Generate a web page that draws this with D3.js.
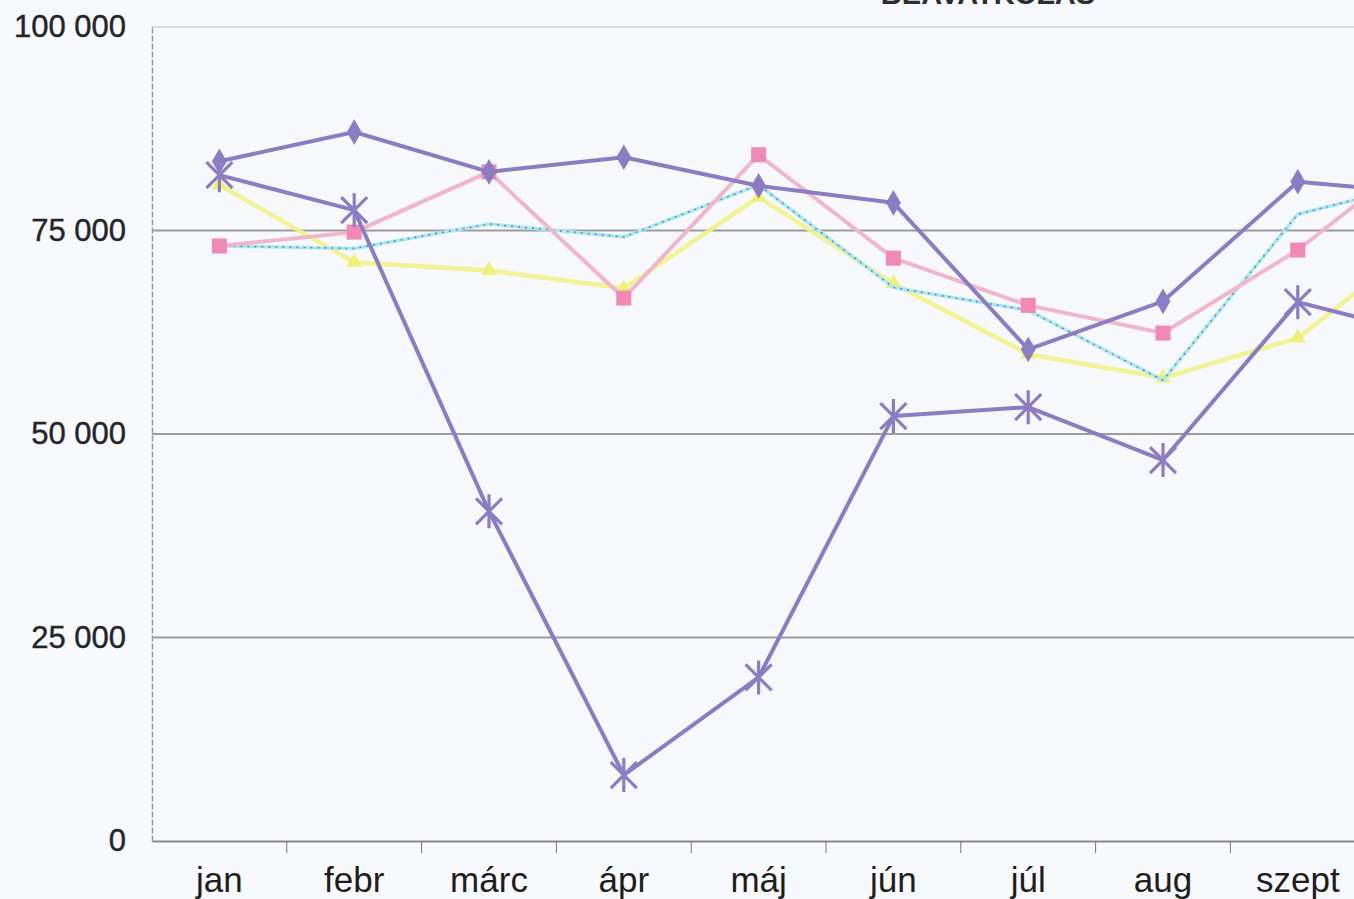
<!DOCTYPE html>
<html><head><meta charset="utf-8">
<script src="https://cdn.jsdelivr.net/npm/d3@7"></script>
<style>
html,body{margin:0;padding:0;background:#f8f9fc;overflow:hidden;}
svg{display:block;}
</style></head>
<body>
<svg id="chart" width="1354" height="899"></svg>
<script>
const months = ["jan","febr","márc","ápr","máj","jún","júl","aug","szept","okt"];
const yTicks = [0, 25000, 50000, 75000, 100000];
const titleText = "BEAVATKOZÁS";
const seriesDiamond  = [83500, 87100, 82200, 84000, 80500, 78400, 60400, 66300, 81000, 79500];
const seriesSquare   = [73100, 74800, 82200, 66700, 84300, 71600, 65800, 62400, 72600, 85600];
const seriesCross    = [73100, 72800, 75800, 74200, 80600, 68000, 65200, 56600, 77000, 81200];
const seriesTriangle = [80600, 71100, 70100, 67900, 79100, 68500, 59800, 56900, 61800, 74700];
const seriesStar     = [81800, 77500, 40500, 8100, 20100, 52200, 53300, 46800, 66200, 62000];

const svg = d3.select("#chart");
const pLeft = 152, pTop = 27, pBottom = 841, band = 134.8;
const x = d3.scaleBand().domain(months).range([pLeft, pLeft + band * months.length]);
const y = d3.scaleLinear().domain([0, 100000]).range([pBottom, pTop]);
const cx = d => x(d) + x.bandwidth() / 2;

// title (cut off at top, as in the reference)
svg.append("text").attr("x", 988).attr("y", 4).attr("text-anchor", "middle")
  .attr("font-family", "Liberation Sans, Arial, sans-serif").attr("font-weight", "bold")
  .attr("font-size", 29).attr("fill", "#2a2e33").text(titleText);

// plot background
svg.append("rect").attr("x", pLeft).attr("y", pTop).attr("width", 1354 - pLeft).attr("height", pBottom - pTop).attr("fill", "#f6f8fb");

// gridlines
svg.append("g").selectAll("line").data(yTicks.filter(t => t > 0)).join("line")
  .attr("x1", pLeft).attr("x2", 1354).attr("y1", d => y(d)).attr("y2", d => y(d))
  .attr("stroke", d => d === 100000 ? "#dcdee2" : "#9c9c9c").attr("stroke-width", 2);

// y axis
const yAxis = d3.axisLeft(y).tickValues(yTicks).tickSize(0).tickPadding(26)
  .tickFormat(d => d3.format(",")(d).replace(/,/g, " "));
const gy = svg.append("g").attr("transform", `translate(${pLeft},0)`).call(yAxis);
gy.select(".domain").attr("stroke", "#9a9ea6").attr("stroke-width", 1.5).attr("stroke-dasharray", "6,2");
gy.selectAll("text").attr("font-family", "Liberation Sans, Arial, sans-serif").attr("font-size", 31)
  .attr("fill", "#22262b").attr("stroke", "#22262b").attr("stroke-width", 0.4);

// x axis
const xAxis = d3.axisBottom(x).tickSize(0).tickPadding(26);
const gx = svg.append("g").attr("transform", `translate(0,${pBottom})`).call(xAxis);
gx.select(".domain").attr("stroke", "#8a8a8a").attr("stroke-width", 2);
gx.selectAll("text").attr("font-family", "Liberation Sans Narrow, Liberation Sans, Arial, sans-serif")
  .attr("font-size", 35).attr("fill", "#1e1e1e");
// boundary ticks
svg.append("g").selectAll("line").data(months.slice(1)).join("line")
  .attr("x1", d => x(d)).attr("x2", d => x(d)).attr("y1", pBottom).attr("y2", pBottom + 12)
  .attr("stroke", "#777").attr("stroke-width", 1);

const line = d3.line().x((d, i) => cx(months[i])).y(d => y(d));

function drawLine(data, color, width, dash, opacity) {
  svg.append("path").datum(data).attr("d", line).attr("fill", "none")
    .attr("stroke", color).attr("stroke-width", width).attr("stroke-linejoin", "round")
    .attr("stroke-dasharray", dash || null).attr("opacity", opacity || 1);
}

// yellow triangles
drawLine(seriesTriangle, "#f2f28a", 4.5, null, 0.9);
svg.append("g").selectAll("path").data(seriesTriangle).join("path")
  .attr("d", d3.symbol(d3.symbolTriangle, 110)).attr("fill", "#eef07a")
  .attr("transform", (d, i) => `translate(${cx(months[i])},${y(d)})`);

// cyan crosses
drawLine(seriesCross, "#a6ecef", 3.5);
drawLine(seriesCross, "#8878c4", 1.6, "2,5");
svg.append("g").selectAll("path").data(seriesCross.slice(0, 1)).join("path")
  .attr("d", d3.symbol(d3.symbolTimes, 130)).attr("fill", "#7fe2ee")
  .attr("transform", (d, i) => `translate(${cx(months[i])},${y(d)})`);

// pink squares
drawLine(seriesSquare, "#f0b6cb", 4);
svg.append("g").selectAll("rect").data(seriesSquare).join("rect")
  .attr("x", (d, i) => cx(months[i]) - 7.5).attr("y", d => y(d) - 7.5)
  .attr("width", 15).attr("height", 15).attr("fill", "#f08ab4");

// purple diamonds
drawLine(seriesDiamond, "#8c7cc2", 4);
svg.append("g").selectAll("path").data(seriesDiamond).join("path")
  .attr("d", d3.symbol(d3.symbolDiamond, 190)).attr("fill", "#8c7cc2")
  .attr("transform", (d, i) => `translate(${cx(months[i])},${y(d)})`);

// purple stars
drawLine(seriesStar, "#8c7cc2", 4);
const starPath = "M-13,-13L13,13M-13,13L13,-13M0,-17L0,17";
svg.append("g").selectAll("path").data(seriesStar).join("path")
  .attr("d", starPath).attr("stroke", "#8c7cc2").attr("stroke-width", 3.2).attr("fill", "none")
  .attr("transform", (d, i) => `translate(${cx(months[i])},${y(d)})`);
</script>
</body></html>
